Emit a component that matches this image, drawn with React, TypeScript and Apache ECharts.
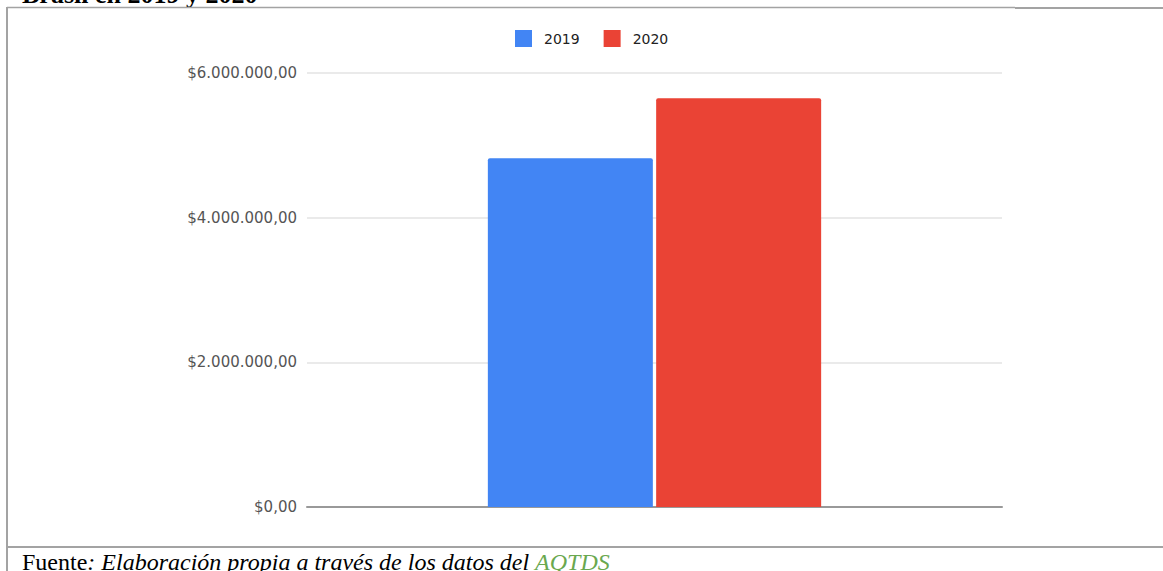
import React, { useEffect, useRef } from "react";
import * as echarts from "echarts";

const categories: string[] = [""];
const seriesNames: string[] = ["2019", "2020"];
const values2019: number[] = [4820000];
const values2020: number[] = [5650000];
const yTicks: number[] = [0, 2000000, 4000000, 6000000];
const titleText = "Brasil en 2019 y 2020";
const footerLabel = "Fuente";
const footerItalic = ": Elaboración propia a través de los datos del ";
const footerLink = "AQTDS";

function fmtMoney(v: number): string {
  const fixed = v.toFixed(2);
  const [intPart, dec] = fixed.split(".");
  const withDots = intPart.replace(/\B(?=(\d{3})+(?!\d))/g, ".");
  return "$" + withDots + "," + dec;
}

export default function App() {
  const ref = useRef<HTMLDivElement>(null);
  useEffect(() => {
    if (!ref.current) return;
    const chart = echarts.init(ref.current, undefined, { renderer: "svg" });
    const border = "#a3a3a3";
    const sq = "path://M0,0 L10,0 L10,10 L0,10 Z";
    chart.setOption({
      animation: false,
      backgroundColor: "#ffffff",
      legend: {
        data: [
          { name: seriesNames[0], icon: sq },
          { name: seriesNames[1], icon: sq },
        ],
        left: 515,
        top: 30,
        padding: 0,
        itemWidth: 17,
        itemHeight: 17,
        itemGap: 24,
        textStyle: {
          fontFamily: "DejaVu Sans, sans-serif",
          fontSize: 14,
          color: "#222222",
          padding: [0, 0, 0, 7],
        },
      },
      grid: { left: 307, right: 161, top: 73, bottom: 64, containLabel: false },
      xAxis: {
        type: "category",
        data: categories,
        axisLine: { show: true, lineStyle: { color: "#999999", width: 2 } },
        axisTick: { show: false },
        axisLabel: { show: false },
        splitLine: { show: false },
      },
      yAxis: {
        type: "value",
        min: yTicks[0],
        max: yTicks[yTicks.length - 1],
        interval: yTicks[1] - yTicks[0],
        axisLine: { show: false },
        axisTick: { show: false },
        axisLabel: {
          margin: 10,
          color: "#555555",
          fontFamily: "DejaVu Sans, sans-serif",
          fontSize: 15,
          formatter: (v: number) => fmtMoney(v),
        },
        splitLine: { lineStyle: { color: "#e3e3e3", width: 1.5 } },
      },
      series: [
        {
          name: seriesNames[0],
          type: "bar",
          data: values2019,
          barWidth: 165,
          barGap: "2%",
          itemStyle: { color: "#4285F4", borderRadius: [2, 2, 0, 0] },
        },
        {
          name: seriesNames[1],
          type: "bar",
          data: values2020,
          barWidth: 165,
          barGap: "2%",
          itemStyle: { color: "#EA4335", borderRadius: [2, 2, 0, 0] },
        },
      ],
      graphic: [
        {
          type: "text",
          left: 22,
          top: -19,
          style: {
            text: titleText,
            font: "bold 26px 'Liberation Serif', 'DejaVu Serif', serif",
            fill: "#000000",
          },
        },
        {
          type: "line",
          shape: { x1: 7, y1: 7.5, x2: 1015, y2: 7.5 },
          style: { stroke: border, lineWidth: 1.5 },
        },
        {
          type: "line",
          shape: { x1: 1015, y1: 8, x2: 1163, y2: 8 },
          style: { stroke: border, lineWidth: 2 },
        },
        {
          type: "line",
          shape: { x1: 7, y1: 7, x2: 7, y2: 571 },
          style: { stroke: border, lineWidth: 2 },
        },
        {
          type: "line",
          shape: { x1: 7, y1: 547, x2: 1163, y2: 547 },
          style: { stroke: border, lineWidth: 2 },
        },
        {
          type: "text",
          left: 22,
          top: 550,
          style: {
            text: "{n|" + footerLabel + "}{i|" + footerItalic + "}{g|" + footerLink + "}",
            rich: {
              n: { font: "24px 'Liberation Serif', 'DejaVu Serif', serif", fill: "#000000" },
              i: { font: "italic 24px 'Liberation Serif', 'DejaVu Serif', serif", fill: "#000000" },
              g: { font: "italic 24px 'Liberation Serif', 'DejaVu Serif', serif", fill: "#6aa84f" },
            },
          },
        },
      ],
    });
    return () => chart.dispose();
  }, []);
  return (
    <div
      ref={ref}
      style={{ position: "fixed", left: 0, top: 0, width: 1163, height: 571, background: "#fff" }}
    />
  );
}
